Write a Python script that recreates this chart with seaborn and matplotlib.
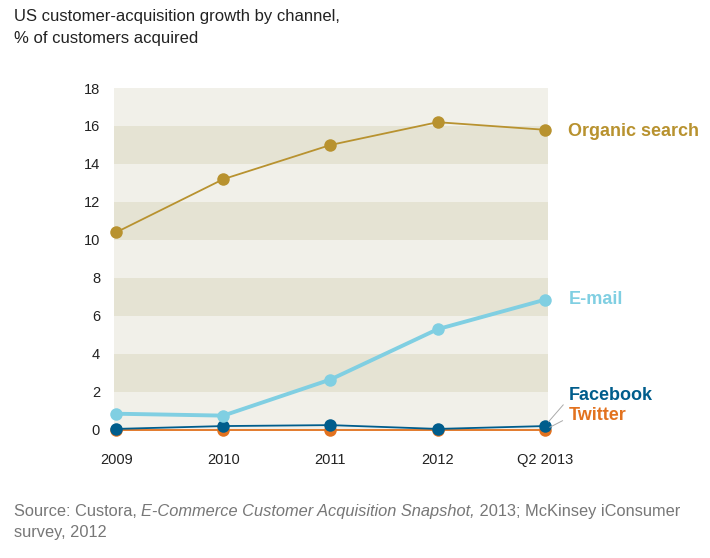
import pandas as pd
import matplotlib
matplotlib.use("Agg")
import matplotlib.pyplot as plt
import seaborn as sns

PERIODS = ["2009", "2010", "2011", "2012", "Q2 2013"]
ORGANIC = [10.4, 13.2, 15.0, 16.2, 15.8]
EMAIL = [0.85, 0.75, 2.65, 5.3, 6.85]
FACEBOOK = [0.05, 0.2, 0.25, 0.05, 0.2]
TWITTER = [0.0, 0.0, 0.0, 0.0, 0.0]
Y_TICKS = [0, 2, 4, 6, 8, 10, 12, 14, 16, 18]

C_ORGANIC = "#b8922f"
C_EMAIL = "#80cfe2"
C_FACEBOOK = "#005d8c"
C_TWITTER = "#e2721f"
BAND_LIGHT = "#f1f0e9"
BAND_DARK = "#e5e3d3"
TEXT = "#222222"
GREY = "#777777"

sns.set_style("white")
plt.rcParams["font.family"] = ["Liberation Sans", "DejaVu Sans"]

x = list(range(len(PERIODS)))
df = pd.DataFrame({"x": x * 4,
                   "value": TWITTER + FACEBOOK + EMAIL + ORGANIC,
                   "channel": ["Twitter"] * 5 + ["Facebook"] * 5 + ["E-mail"] * 5 + ["Organic search"] * 5})

fig = plt.figure(figsize=(7.1, 5.58), dpi=100)
ax = fig.add_axes([114 / 710, 1 - 431 / 558, (548 - 114) / 710, (431 - 88) / 558])
ax.set_facecolor(BAND_LIGHT)

# horizontal bands
for lo in Y_TICKS[1:-1:2]:
    ax.axhspan(lo, lo + 2, color=BAND_DARK, lw=0, zorder=0)

styles = {
    "Twitter": (C_TWITTER, 1.3),
    "Facebook": (C_FACEBOOK, 1.3),
    "E-mail": (C_EMAIL, 2.8),
    "Organic search": (C_ORGANIC, 1.3),
}
for name, (col, lw) in styles.items():
    sub = df[df["channel"] == name]
    sns.lineplot(data=sub, x="x", y="value", ax=ax, color=col, lw=lw,
                 marker="o", markersize=9, markeredgewidth=0, clip_on=False, zorder=3)

ax.set_xlim(-0.02, 4.03)
ax.set_ylim(-0.06, 18)
ax.set_yticks(Y_TICKS)
ax.set_xticks(x)
ax.set_xticklabels(PERIODS)
ax.set_xlabel("")
ax.set_ylabel("")
ax.tick_params(axis="both", length=0, labelsize=10.5, colors=TEXT)
ax.tick_params(axis="y", pad=10)
ax.tick_params(axis="x", pad=16)
for s in ax.spines.values():
    s.set_visible(False)

# end labels
lab = dict(fontsize=13, fontweight="bold", va="center", annotation_clip=False,
           textcoords="offset points")
leader = dict(arrowstyle="-", color="#aaaaaa", lw=0.7, shrinkA=2, shrinkB=4)
ax.annotate("Organic search", xy=(x[-1], ORGANIC[-1]), xytext=(17, -1.5), color=C_ORGANIC, **lab)
ax.annotate("E-mail", xy=(x[-1], EMAIL[-1]), xytext=(17, 0), color=C_EMAIL, **lab)
ax.annotate("Facebook", xy=(x[-1], FACEBOOK[-1]), xytext=(17, 22), color=C_FACEBOOK,
            arrowprops=dict(relpos=(0, 0.3), **leader), **lab)
ax.annotate("Twitter", xy=(x[-1], TWITTER[-1]), xytext=(17, 10), color=C_TWITTER,
            arrowprops=dict(relpos=(0, 0.4), **leader), **lab)

# title
fig.text(14 / 710, 1 - 17 / 558, "US customer-acquisition growth by channel,",
         fontsize=12, color=TEXT, va="center", ha="left")
fig.text(14 / 710, 1 - 39 / 558, "% of customers acquired",
         fontsize=12, color=TEXT, va="center", ha="left")

# source, with italic report name
src = dict(fontsize=11.8, color=GREY, va="bottom", ha="left", annotation_clip=False)
t1 = ax.annotate("Source: Custora, ", xy=(14 / 710, 1 - 519 / 558), xycoords="figure fraction", **src)
t2 = ax.annotate("E-Commerce Customer Acquisition Snapshot,", xy=(1, 0), xycoords=t1,
                 fontstyle="italic", **src)
t3 = ax.annotate(" 2013; McKinsey iConsumer", xy=(1, 0), xycoords=t2, **src)
ax.annotate("survey, 2012", xy=(14 / 710, 1 - 540 / 558), xycoords="figure fraction", **src)

fig.savefig("out.png", dpi=100)
